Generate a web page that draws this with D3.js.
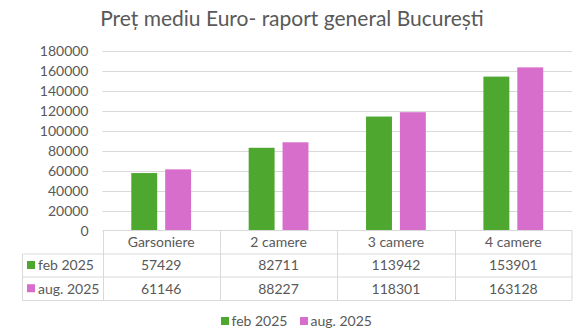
<!DOCTYPE html>
<html><head><meta charset="utf-8">
<script src="https://cdn.jsdelivr.net/npm/d3@7"></script>
<style>
body{margin:0;background:#fff;}
svg text{font-family:Lato,"Noto Sans",sans-serif;fill:#595959;}
</style></head><body>
<svg id="c" width="585" height="332"></svg>
<script>
const title = "Preț mediu Euro- raport general București";
const categories = ["Garsoniere", "2 camere", "3 camere", "4 camere"];
const seriesNames = ["feb 2025", "aug. 2025"];
const feb2025 = [57429, 82711, 113942, 153901];
const aug2025 = [61146, 88227, 118301, 163128];
const colors = ["#4EA72E", "#D86ECC"];
const yTicks = [0, 20000, 40000, 60000, 80000, 100000, 120000, 140000, 160000, 180000];

const series = [feb2025, aug2025];
const svg = d3.select("#c");
const L = 102.5, R = 572, T = 50.5, B = 230.5;
const tableLeft = 22.5;
const rowY = [230.5, 254, 277, 300.5];
const grid = "#D9D9D9";

svg.append("text").attr("x", 292).attr("y", 26).attr("text-anchor", "middle")
  .style("font-size", "21px").text(title);

const x = d3.scaleBand().domain(categories).range([L, R]);
const xs = d3.scaleBand().domain(seriesNames).range([0, x.bandwidth()]).paddingInner(0.235).paddingOuter(0.85);
const y = d3.scaleLinear().domain([0, 180000]).range([B, T]);

// gridlines
svg.append("g").selectAll("line").data(yTicks.filter(d => d > 0)).join("line")
  .attr("x1", L).attr("x2", R).attr("y1", d => Math.round(y(d)) + 0.5).attr("y2", d => Math.round(y(d)) + 0.5)
  .attr("stroke", grid).attr("stroke-width", 1);

// y labels
const yAxis = d3.axisLeft(y).tickValues(yTicks).tickSize(0).tickPadding(0).tickFormat(d3.format("d"));
const ga = svg.append("g").attr("transform", `translate(${L - 14},0)`).call(yAxis);
ga.select(".domain").remove();
ga.selectAll("text").style("font-size", "14px").attr("fill", "#595959").attr("dy", "0.35em")
  .style("font-family", 'Lato,"Noto Sans",sans-serif');

// bars
series.forEach((vals, si) => {
  svg.append("g").selectAll("rect").data(vals).join("rect")
    .attr("x", (d, i) => x(categories[i]) + xs(seriesNames[si]))
    .attr("width", xs.bandwidth())
    .attr("y", d => y(d))
    .attr("height", d => y(0) - y(d))
    .attr("fill", colors[si]);
});

// table
const tg = svg.append("g");
tg.append("line").attr("x1", L).attr("x2", R).attr("y1", rowY[0]).attr("y2", rowY[0]).attr("stroke", grid);
[1, 2, 3].forEach(k => tg.append("line").attr("x1", tableLeft).attr("x2", R).attr("y1", rowY[k]).attr("y2", rowY[k]).attr("stroke", grid));
tg.append("line").attr("x1", tableLeft).attr("x2", tableLeft).attr("y1", rowY[1]).attr("y2", rowY[3]).attr("stroke", grid);
categories.forEach(c => tg.append("line").attr("x1", Math.round(x(c)) + 0.5).attr("x2", Math.round(x(c)) + 0.5)
  .attr("y1", rowY[0]).attr("y2", rowY[3]).attr("stroke", grid));
tg.append("line").attr("x1", R).attr("x2", R).attr("y1", rowY[0]).attr("y2", rowY[3]).attr("stroke", grid);

tg.selectAll("text.h").data(categories).join("text").attr("class", "h")
  .attr("x", d => x(d) + x.bandwidth() / 2).attr("y", (rowY[0] + rowY[1]) / 2).attr("dy", "0.35em")
  .attr("text-anchor", "middle").style("font-size", "14px").text(d => d);

series.forEach((vals, si) => {
  const cy = (rowY[si + 1] + rowY[si + 2]) / 2;
  tg.append("rect").attr("x", 27).attr("y", cy - 4.5).attr("width", 8).attr("height", 8).attr("fill", colors[si]);
  tg.append("text").attr("x", 38).attr("y", cy).attr("dy", "0.35em").style("font-size", "14px").text(seriesNames[si]);
  tg.selectAll(null).data(vals).join("text")
    .attr("x", (d, i) => x(categories[i]) + x.bandwidth() / 2).attr("y", cy).attr("dy", "0.35em")
    .attr("text-anchor", "middle").style("font-size", "14px").text(d => d);
});

const lg = svg.append("g");
const legX = [221, 300];
seriesNames.forEach((n, i) => {
  lg.append("rect").attr("x", legX[i]).attr("y", 317).attr("width", 8).attr("height", 8).attr("fill", colors[i]);
  lg.append("text").attr("x", legX[i] + 10.5).attr("y", 321).attr("dy", "0.35em").style("font-size", "14px").text(n);
});
</script></body></html>
